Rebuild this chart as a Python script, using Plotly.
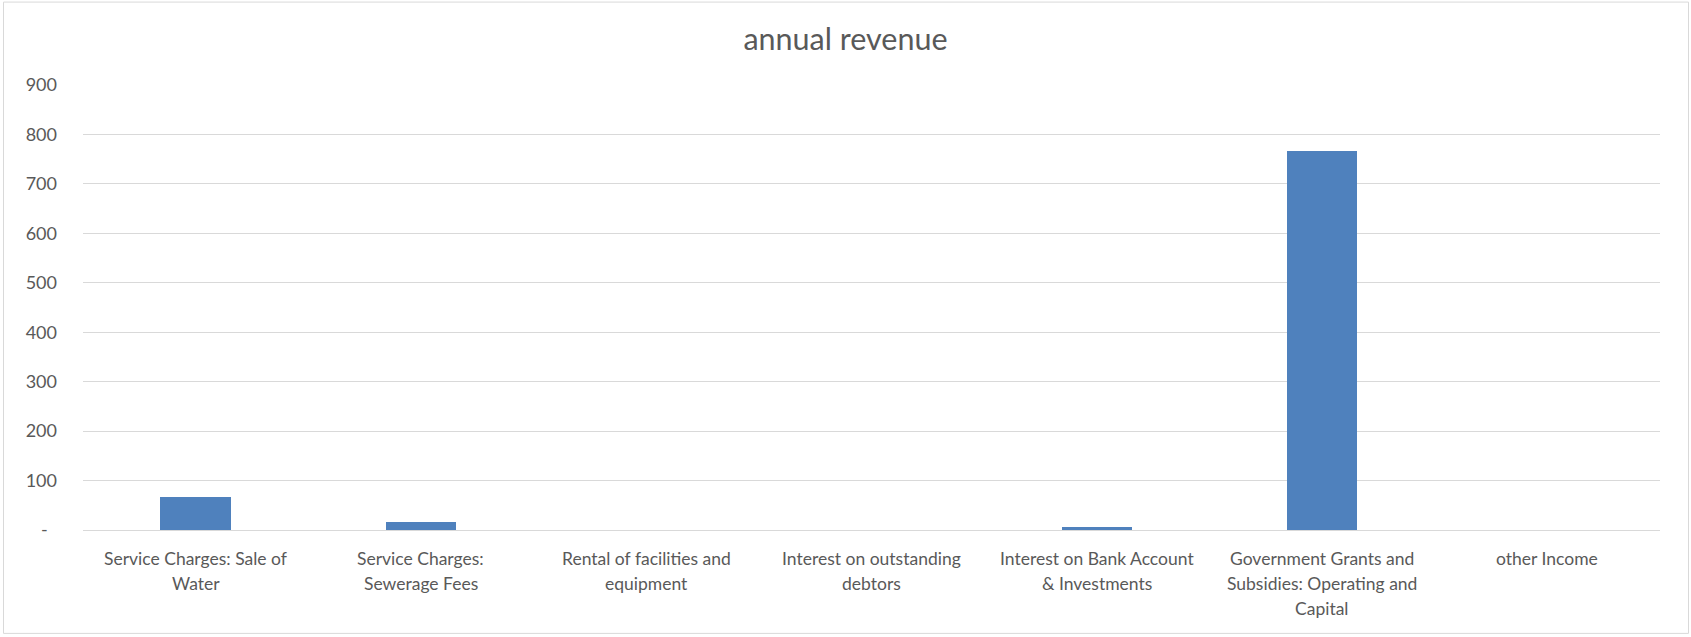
import plotly.graph_objects as go

categories = [
    "Service Charges: Sale of<br>Water",
    "Service Charges:<br>Sewerage Fees",
    "Rental of facilities and<br>equipment",
    "Interest on outstanding<br>debtors",
    "Interest on Bank Account<br>& Investments",
    "Government Grants and<br>Subsidies: Operating and<br>Capital",
    "other Income",
]
values = [67, 17, 0, 0, 6, 766, 0]
y_tick_vals = [0, 100, 200, 300, 400, 500, 600, 700, 800, 900]
y_tick_text = ["-\u00a0\u00a0", "100", "200", "300", "400", "500", "600", "700", "800", "900"]

W, H = 1691, 637
L, R, T, B = 83, 31, 84.5, 107
pw, ph = W - L - R, H - T - B

FONT = "Lato"
GREY = "#595959"

fig = go.Figure()
fig.add_trace(go.Bar(
    x=list(range(len(categories))), y=values,
    marker=dict(color="#4F81BD", line=dict(width=0)),
    width=0.313,
))

annotations = []
for i, lab in enumerate(categories):
    for j, line in enumerate(lab.split("<br>")):
        annotations.append(dict(
            x=i, xref="x", y=0, yref="paper", yanchor="middle",
            yshift=-(28 + 25 * j), text=line, showarrow=False,
            font=dict(family=FONT, size=17.5, color=GREY),
        ))

fig.update_layout(
    width=W, height=H,
    margin=dict(l=L, r=R, t=T, b=B),
    paper_bgcolor="white", plot_bgcolor="white",
    title=dict(text="annual revenue", x=0.5, xref="container", xanchor="center",
               y=1 - 39 / H, yref="container", yanchor="middle",
               font=dict(family=FONT, size=30.5, color=GREY)),
    xaxis=dict(range=[-0.5, len(categories) - 0.5], showticklabels=False,
               showgrid=False, zeroline=False, showline=False, ticks=""),
    yaxis=dict(range=[0, 900], tickvals=y_tick_vals, ticktext=y_tick_text,
               showgrid=True, gridcolor="#d9d9d9", gridwidth=1,
               zeroline=True, zerolinecolor="#d9d9d9", zerolinewidth=1,
               showline=False, ticks="", ticklabelstandoff=25,
               tickfont=dict(family=FONT, size=18, color=GREY)),
    annotations=annotations,
    showlegend=False,
    bargap=0,
    shapes=[dict(type="rect", xref="paper", yref="paper",
                 x0=(3.5 - L) / pw, x1=(1688.5 - L) / pw,
                 y0=(H - B - 633.5) / ph, y1=(H - B - 1.5) / ph,
                 line=dict(color="#d9d9d9", width=1), layer="below")],
)

fig.write_html("out.html")
